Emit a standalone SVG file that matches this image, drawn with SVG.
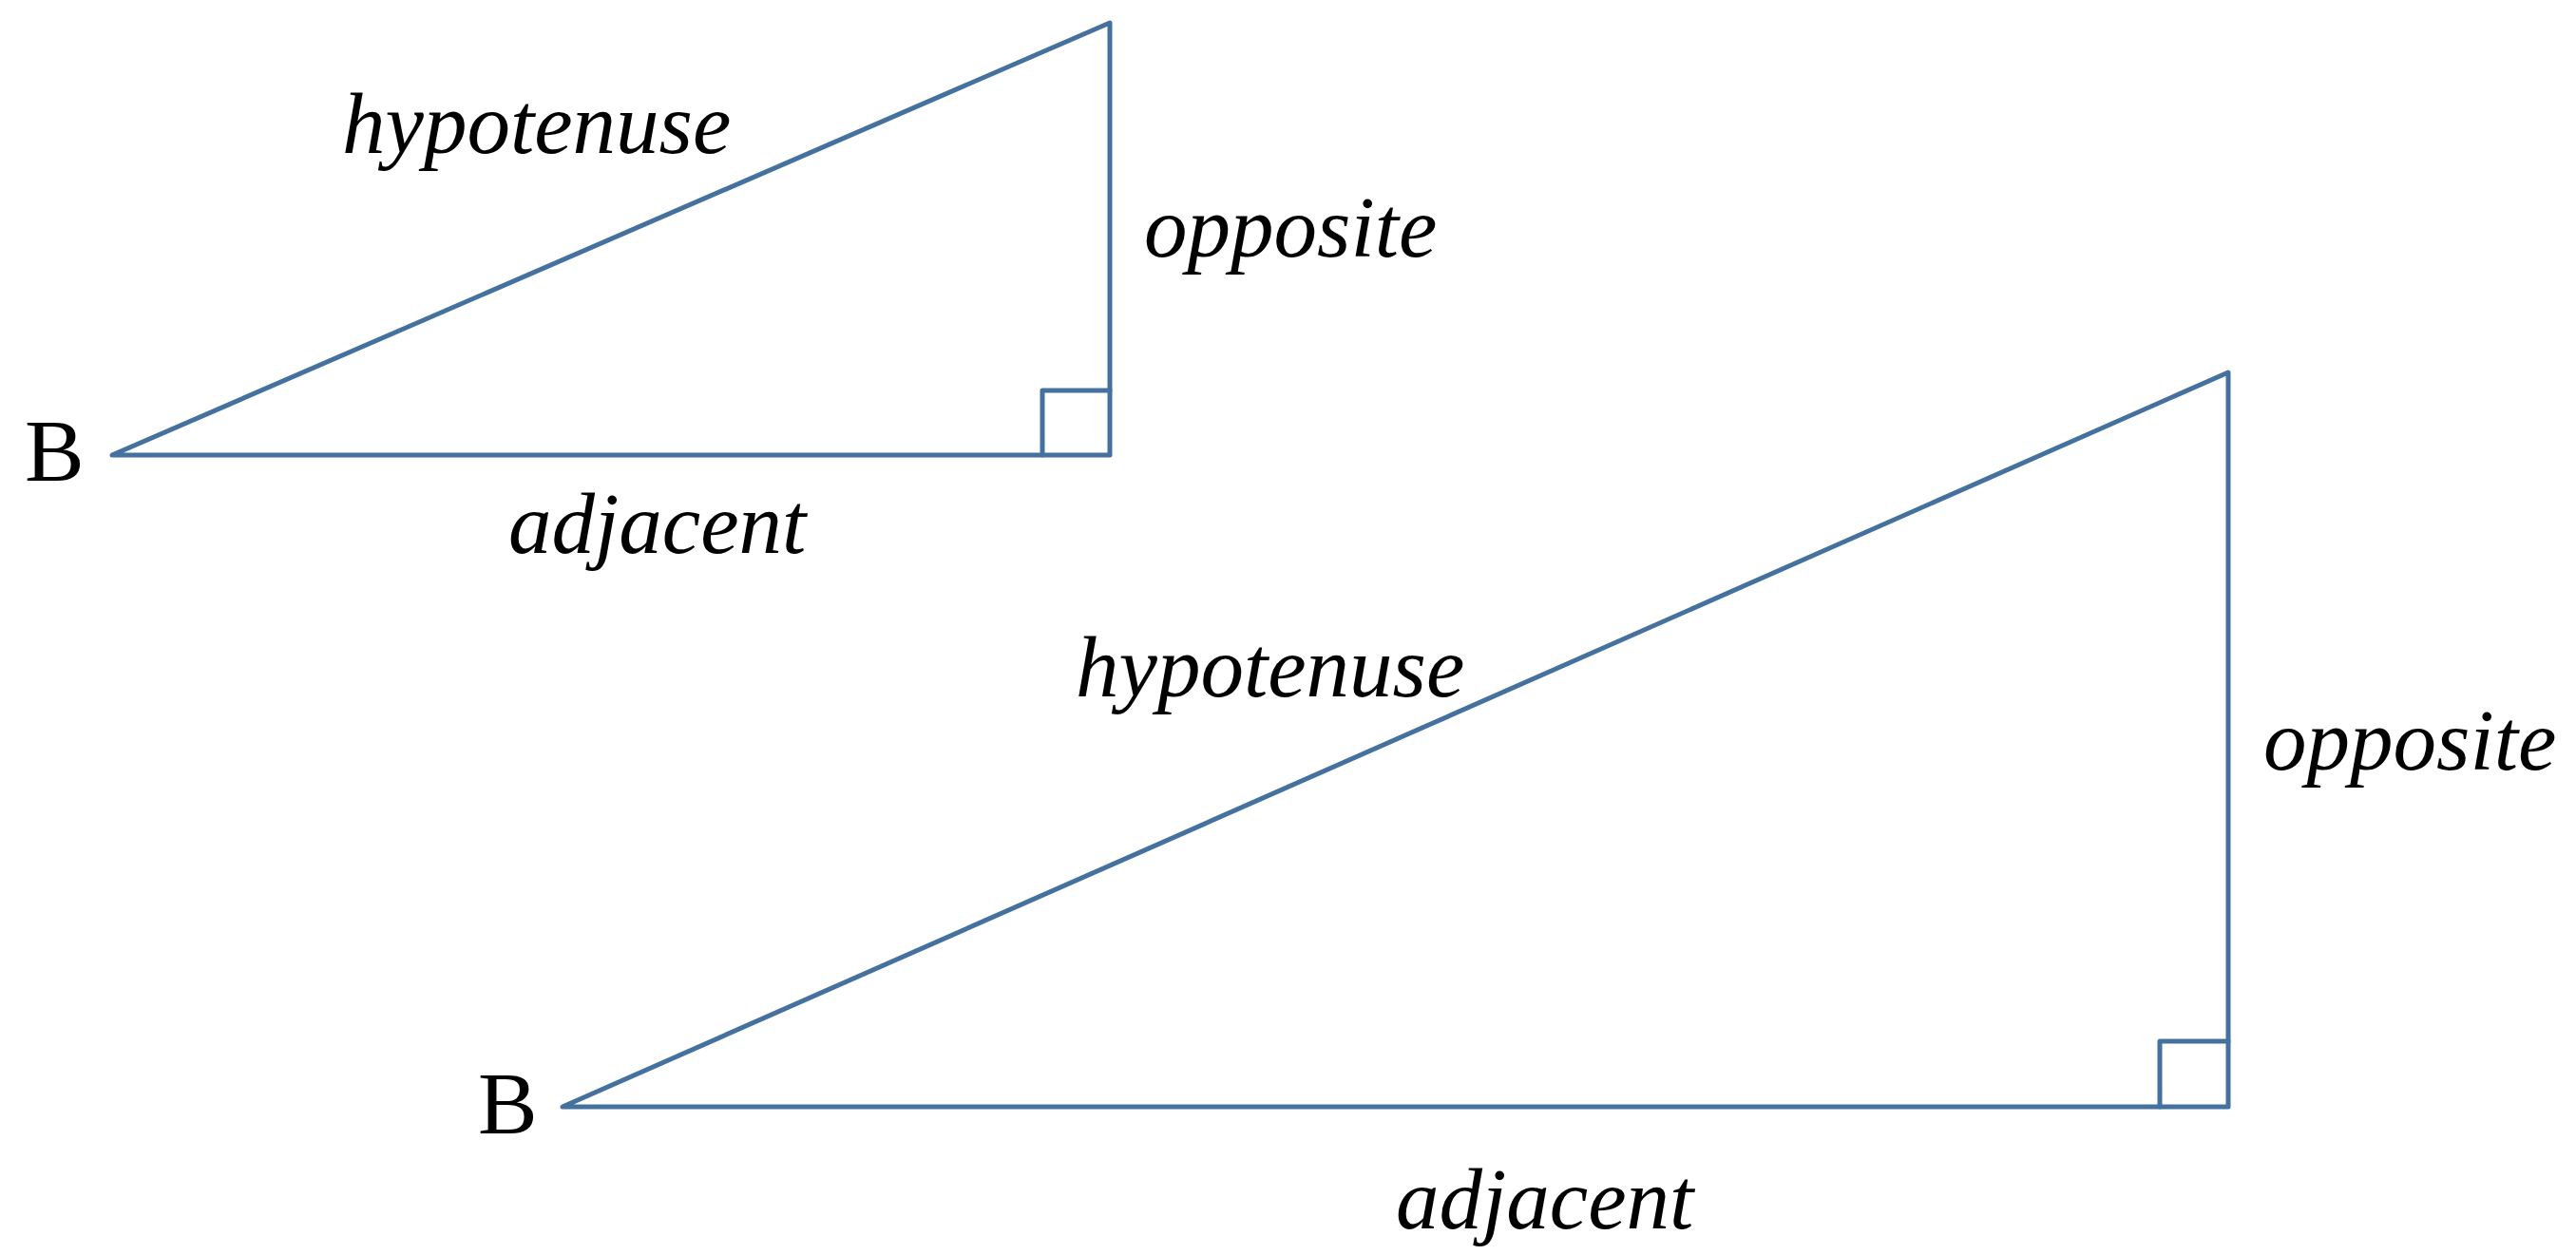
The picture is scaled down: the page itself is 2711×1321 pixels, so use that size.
<svg xmlns="http://www.w3.org/2000/svg" width="2711" height="1321" viewBox="0 0 2711 1321">
<style>
.edge{fill:none;stroke:#45719e;stroke-width:5;stroke-linejoin:round;stroke-linecap:round}
.lbl{font-family:"Liberation Serif","Times New Roman",serif;font-style:italic;font-size:91px;fill:#000}
.pt{font-family:"Liberation Serif","Times New Roman",serif;font-size:94px;fill:#000}
</style>
<rect width="2711" height="1321" fill="#fff"/>
<g id="triangle1">
<polygon class="edge" points="118,479 1168,24 1168,479"/>
<polyline class="edge" points="1097,479 1097,411 1168,411"/>
<text class="pt" x="26" y="506">B</text>
<text class="lbl" x="360" y="161">hypotenuse</text>
<text class="lbl" x="1204" y="270">opposite</text>
<text class="lbl" x="535" y="582">adjacent</text>
</g>
<g id="triangle2">
<polygon class="edge" points="592,1165 2345,392 2345,1165"/>
<polyline class="edge" points="2273,1165 2273,1096 2345,1096"/>
<text class="pt" x="503" y="1193">B</text>
<text class="lbl" x="1132" y="733">hypotenuse</text>
<text class="lbl" x="2382" y="810">opposite</text>
<text class="lbl" x="1469" y="1293">adjacent</text>
</g>
<g id="connectors"></g>
</svg>
